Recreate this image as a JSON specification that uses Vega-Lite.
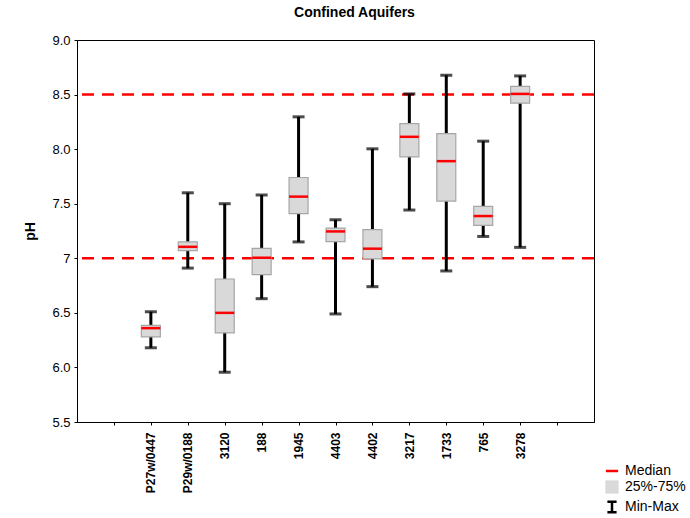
{
  "$schema": "https://vega.github.io/schema/vega-lite/v6.json",
  "width": 517,
  "height": 382,
  "autosize": "none",
  "padding": {"left": 77, "top": 40, "right": 96, "bottom": 96},
  "background": "white",
  "title": {"text": "Confined Aquifers", "fontSize": 14, "fontWeight": "bold", "font": "Liberation Sans", "color": "black", "offset": 14, "dx": 19, "anchor": "middle"},
  "data": {"values": [
    {"well": "P27w/0447", "min": 6.18, "q1": 6.28, "median": 6.36, "q3": 6.385, "max": 6.51},
    {"well": "P29w/0188", "min": 6.91, "q1": 7.07, "median": 7.105, "q3": 7.15, "max": 7.60},
    {"well": "3120", "min": 5.956, "q1": 6.317, "median": 6.50, "q3": 6.81, "max": 7.50},
    {"well": "188", "min": 6.63, "q1": 6.85, "median": 7.005, "q3": 7.09, "max": 7.58},
    {"well": "1945", "min": 7.15, "q1": 7.41, "median": 7.565, "q3": 7.74, "max": 8.296},
    {"well": "4403", "min": 6.49, "q1": 7.152, "median": 7.246, "q3": 7.277, "max": 7.353},
    {"well": "4402", "min": 6.74, "q1": 6.994, "median": 7.088, "q3": 7.262, "max": 8.003},
    {"well": "3217", "min": 7.442, "q1": 7.93, "median": 8.113, "q3": 8.234, "max": 8.506},
    {"well": "1733", "min": 6.884, "q1": 7.524, "median": 7.89, "q3": 8.143, "max": 8.677},
    {"well": "765", "min": 7.20, "q1": 7.301, "median": 7.387, "q3": 7.475, "max": 8.073},
    {"well": "3278", "min": 7.10, "q1": 8.421, "median": 8.506, "q3": 8.576, "max": 8.671}
  ]},
  "encoding": {
    "x": {
      "field": "well", "type": "nominal",
      "scale": {"type": "point", "padding": 1.06, "domain": [" ", "P27w/0447", "P29w/0188", "3120", "188", "1945", "4403", "4402", "3217", "1733", "765", "3278", "  "]},
      "axis": {"title": null, "labelAngle": -90, "labelAlign": "right", "labelBaseline": "middle", "labelFontWeight": "bold", "labelFontSize": 12, "labelPadding": 7, "tickSize": 3, "labelColor": "black", "tickColor": "black", "domainColor": "black", "labelFont": "Liberation Sans"}
    }
  },
  "layer": [
    {
      "data": {"values": [{"limit": 8.5}, {"limit": 7}]},
      "mark": {"type": "rule", "color": "#ff0000", "strokeWidth": 2.5, "strokeDash": [12, 8]},
      "encoding": {
        "x": null,
        "y": {"field": "limit", "type": "quantitative"}
      }
    },
    {
      "mark": {"type": "rule", "strokeWidth": 3},
      "encoding": {
        "y": {"field": "min", "type": "quantitative",
          "scale": {"domain": [5.5, 9.0], "nice": false, "zero": false},
          "axis": {"title": "pH", "titleFontSize": 14, "titleFontWeight": "bold", "titleFont": "Liberation Sans", "titleColor": "black", "titlePadding": 14, "values": [5.5, 6, 6.5, 7, 7.5, 8, 8.5, 9], "labelExpr": "datum.value == 7 ? '7' : format(datum.value, '.1f')", "labelFontSize": 13, "labelFont": "Liberation Sans", "labelColor": "black", "tickSize": 3, "labelPadding": 4, "grid": false, "tickColor": "black", "domainColor": "black"}},
        "y2": {"field": "max"},
        "color": {"datum": "Min-Max", "type": "nominal",
          "scale": {"domain": ["Median", "25%-75%", "Min-Max"], "range": ["#ff0000", "#d9d9d9", "#000000"]},
          "legend": {
            "title": null, "orient": "none", "legendX": 528, "legendY": 424,
            "labelFontSize": 14, "labelFont": "Liberation Sans", "labelColor": "black",
            "symbolSize": 150, "rowPadding": 0, "labelOffset": 6,
            "encode": {"symbols": {"update": {
              "shape": {"signal": "datum.value === 'Median' ? 'stroke' : datum.value === '25%-75%' ? 'square' : 'M-0.75,-0.85H0.75M0,-0.85V0.85M-0.75,0.85H0.75'"},
              "fill": {"signal": "datum.value === '25%-75%' ? '#d9d9d9' : 'transparent'"},
              "stroke": {"signal": "datum.value === 'Median' ? '#ff0000' : datum.value === '25%-75%' ? '#a0a0a0' : '#000000'"},
              "strokeWidth": {"signal": "datum.value === '25%-75%' ? 1 : 2.5"},
              "opacity": {"value": 1}
            }}}
          }
        }
      }
    },
    {
      "mark": {"type": "tick", "thickness": 3, "size": 12, "color": "black"},
      "encoding": {"y": {"field": "min", "type": "quantitative"}}
    },
    {
      "mark": {"type": "tick", "thickness": 3, "size": 12, "color": "black"},
      "encoding": {"y": {"field": "max", "type": "quantitative"}}
    },
    {
      "mark": {"type": "bar", "size": 19, "stroke": "#a6a6a6", "strokeWidth": 1.2, "opacity": 1},
      "encoding": {
        "y": {"field": "q1", "type": "quantitative"},
        "y2": {"field": "q3"},
        "color": {"datum": "25%-75%", "type": "nominal"}
      }
    },
    {
      "mark": {"type": "tick", "thickness": 2.5, "size": 19, "opacity": 1},
      "encoding": {
        "y": {"field": "median", "type": "quantitative"},
        "color": {"datum": "Median", "type": "nominal"}
      }
    }
  ],
  "config": {
    "view": {"stroke": "black", "strokeWidth": 1},
    "font": "Liberation Sans"
  }
}
